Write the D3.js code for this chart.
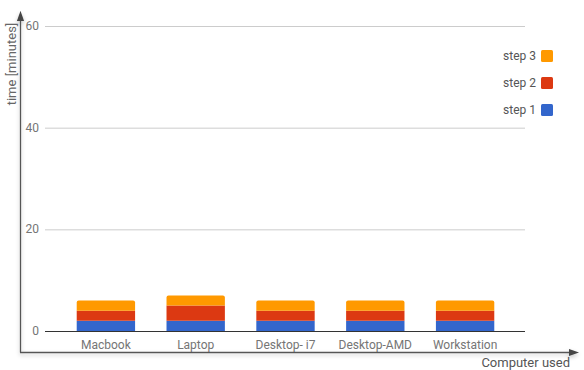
<!DOCTYPE html>
<html>
<head>
<meta charset="utf-8">
<script src="https://cdn.jsdelivr.net/npm/d3@7"></script>
<style>
  body { margin: 0; background: #fff; }
  text { font-family: Roboto, "Noto Sans", sans-serif; }
</style>
</head>
<body>
<script>
const width = 584;
const height = 370;

const computers = ["Macbook", "Laptop", "Desktop- i7", "Desktop-AMD", "Workstation"];
const step1 = [2, 2, 2, 2, 2];
const step2 = [2, 3, 2, 2, 2];
const step3 = [2, 2, 2, 2, 2];
const steps = ["step 1", "step 2", "step 3"];
const colors = ["#3366cc", "#dc3912", "#ff9900"];
const yTicks = [0, 20, 40, 60];

const svg = d3.select("body")
  .append("svg")
  .attr("width", width)
  .attr("height", height);

const defs = svg.append("defs");
const f = defs.append("filter").attr("id", "shadow").attr("x", "-5%").attr("y", "-50%").attr("width", "110%").attr("height", "400%");
f.append("feGaussianBlur").attr("in", "SourceAlpha").attr("stdDeviation", 2);
f.append("feOffset").attr("dy", 2).attr("result", "b");
f.append("feComponentTransfer").append("feFuncA").attr("type", "linear").attr("slope", 0.25);
const m = f.append("feMerge");
m.append("feMergeNode");
m.append("feMergeNode").attr("in", "SourceGraphic");

const arrow = defs.append("marker")
  .attr("id", "arrow")
  .attr("viewBox", "0 0 10 10")
  .attr("refX", 5).attr("refY", 5)
  .attr("markerWidth", 8).attr("markerHeight", 8)
  .attr("orient", "auto");
arrow.append("path").attr("d", "M0,1.5 L10,5 L0,8.5 Z").attr("fill", "#444");

const x = d3.scaleBand().domain(computers).range([61, 510]).paddingInner(0.35).paddingOuter(0.175);
const y = d3.scaleLinear().domain([0, 60]).range([331, 26]);

// gridlines
svg.append("g")
  .selectAll("line")
  .data(yTicks.filter(d => d > 0))
  .join("line")
  .attr("x1", 45).attr("x2", 525)
  .attr("y1", d => y(d) + 0.5).attr("y2", d => y(d) + 0.5)
  .attr("stroke", "#ccc");

svg.append("g")
  .selectAll("text")
  .data(yTicks)
  .join("text")
  .attr("x", 39)
  .attr("y", d => y(d) + 4)
  .attr("text-anchor", "end")
  .attr("font-size", 12)
  .attr("fill", "#757575")
  .text(d => d);

// stacked bars
const table = computers.map((c, i) => ({ name: c, s0: step1[i], s1: step2[i], s2: step3[i] }));
const series = d3.stack().keys(["s0", "s1", "s2"])(table);

series.forEach((s, k) => {
  svg.append("g")
    .selectAll("path")
    .data(s)
    .join("path")
    .attr("fill", colors[k])
    .attr("d", d => {
      const x0 = x(d.data.name), w = x.bandwidth();
      const top = y(d[1]), bot = y(d[0]);
      const r = k === 2 ? 2 : 0;
      return `M${x0},${bot} L${x0},${top + r} Q${x0},${top} ${x0 + r},${top} L${x0 + w - r},${top} Q${x0 + w},${top} ${x0 + w},${top + r} L${x0 + w},${bot} Z`;
    });
});

// zero baseline
svg.append("line")
  .attr("x1", 45).attr("x2", 525)
  .attr("y1", y(0) + 0.5).attr("y2", y(0) + 0.5)
  .attr("stroke", "#333");

// category labels
svg.append("g")
  .selectAll("text")
  .data(computers)
  .join("text")
  .attr("x", d => x(d) + x.bandwidth() / 2)
  .attr("y", 349)
  .attr("text-anchor", "middle")
  .attr("font-size", 12)
  .attr("fill", "#757575")
  .text(d => d);

// axes with arrows
const axes = svg.append("g").attr("filter", "url(#shadow)");
axes.append("line")
  .attr("x1", 20.5).attr("x2", 20.5)
  .attr("y1", 352.5).attr("y2", 16)
  .attr("stroke", "#555").attr("stroke-width", 1.3)
  .attr("marker-end", "url(#arrow)");
axes.append("line")
  .attr("x1", 20).attr("x2", 574)
  .attr("y1", 352.5).attr("y2", 352.5)
  .attr("stroke", "#555").attr("stroke-width", 1.3)
  .attr("marker-end", "url(#arrow)");

svg.append("text")
  .attr("transform", "translate(15.5,64) rotate(-90)")
  .attr("text-anchor", "middle")
  .attr("font-size", 13)
  .attr("fill", "#666")
  .text("time [minutes]");

svg.append("text")
  .attr("x", 570)
  .attr("y", 367)
  .attr("text-anchor", "end")
  .attr("font-size", 13)
  .attr("fill", "#555")
  .text("Computer used");

// legend
const legend = svg.append("g")
  .selectAll("g")
  .data(steps.map((s, i) => ({ s, c: colors[i] })).reverse())
  .join("g")
  .attr("transform", (d, i) => `translate(0,${56 + i * 27})`);
legend.append("text")
  .attr("x", 536).attr("y", 4)
  .attr("text-anchor", "end")
  .attr("font-size", 12)
  .attr("fill", "#555")
  .text(d => d.s);
legend.append("rect")
  .attr("x", 541).attr("y", -6)
  .attr("width", 12).attr("height", 12)
  .attr("rx", 1.5)
  .attr("fill", d => d.c);
</script>
</body>
</html>
